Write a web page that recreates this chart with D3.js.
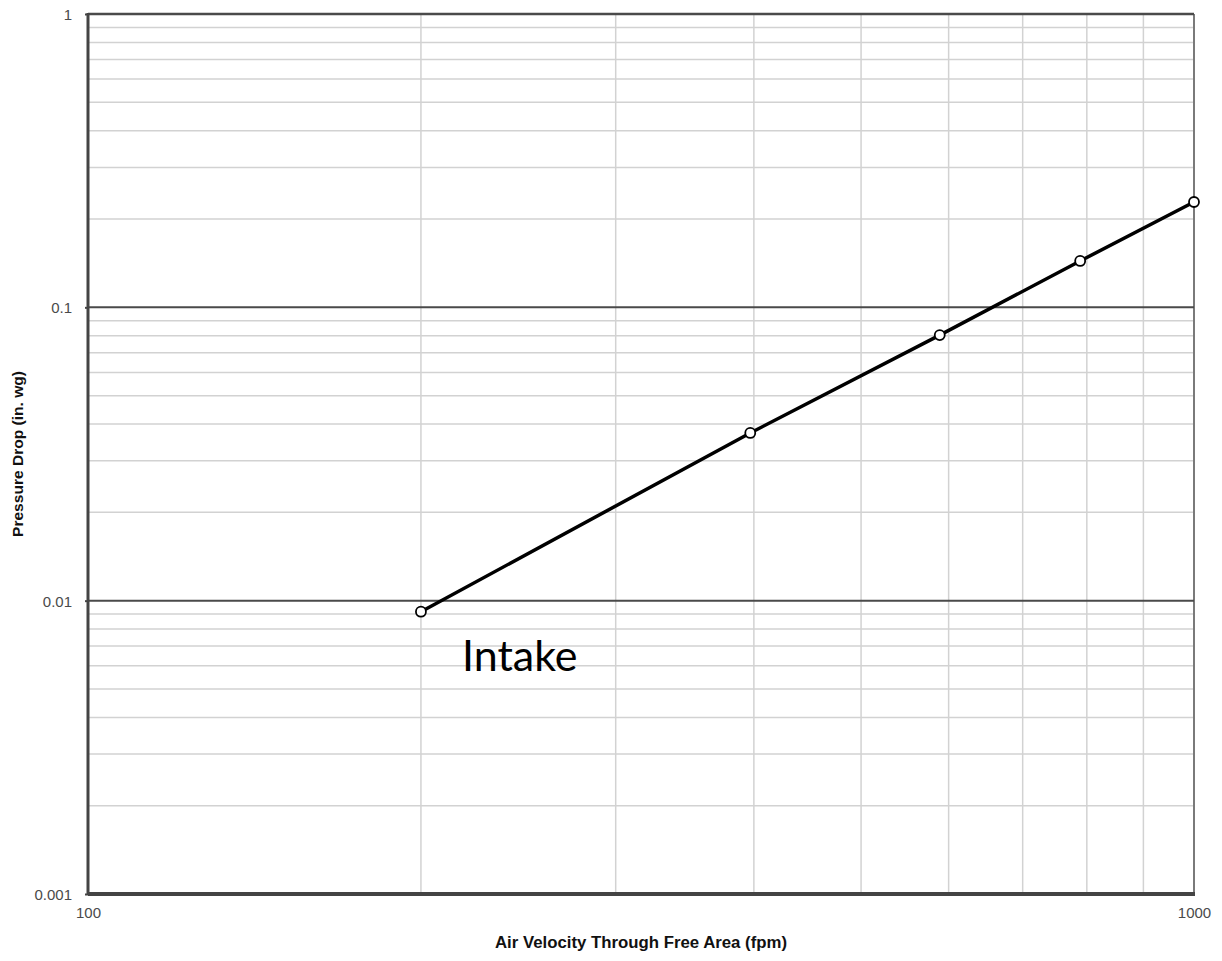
<!DOCTYPE html>
<html>
<head>
<meta charset="utf-8">
<script src="https://cdn.jsdelivr.net/npm/d3@7"></script>
<style>
  body { margin: 0; background: #fff; }
  svg { display: block; }
</style>
</head>
<body>
<div id="container"></div>
<script>
// data
var velocity = [200, 397, 589, 789, 1000];          // fpm
var pressureDrop = [0.00917, 0.0373, 0.0804, 0.1439, 0.2286]; // in. wg
var xTicks = [100, 1000];
var yTicks = [0.001, 0.01, 0.1, 1];
var seriesLabel = "Intake";

var width = 1222, height = 961;
var margin = {top: 14, right: 28, bottom: 67, left: 88};

var svg = d3.select("#container").append("svg")
    .attr("width", width)
    .attr("height", height);

var x = d3.scaleLog().domain([100, 1000]).range([margin.left, width - margin.right]);
var y = d3.scaleLog().domain([0.001, 1]).range([height - margin.bottom, margin.top]);

var g = svg.append("g");

// minor grid lines
var xMinor = d3.range(2, 10).map(function(d) { return d * 100; });
var yMinor = [];
[0.001, 0.01, 0.1].forEach(function(dec) {
  d3.range(2, 10).forEach(function(k) { yMinor.push(dec * k); });
});

g.selectAll(".vgrid")
  .data(xMinor)
  .enter().append("line")
    .attr("x1", function(d) { return x(d); })
    .attr("x2", function(d) { return x(d); })
    .attr("y1", y(1))
    .attr("y2", y(0.001))
    .attr("stroke", "#d2d2d2")
    .attr("stroke-width", 1.5);

g.selectAll(".hgrid")
  .data(yMinor)
  .enter().append("line")
    .attr("x1", x(100))
    .attr("x2", x(1000))
    .attr("y1", function(d) { return y(d); })
    .attr("y2", function(d) { return y(d); })
    .attr("stroke", "#d2d2d2")
    .attr("stroke-width", 1.5);

// right border (1000 line)
g.append("line")
    .attr("x1", x(1000)).attr("x2", x(1000))
    .attr("y1", y(1)).attr("y2", y(0.001))
    .attr("stroke", "#7a7a7a")
    .attr("stroke-width", 2);

// major horizontal lines (0.01, 0.1, 1)
g.selectAll(".major")
  .data([0.01, 0.1, 1])
  .enter().append("line")
    .attr("x1", x(100))
    .attr("x2", x(1000))
    .attr("y1", function(d) { return y(d); })
    .attr("y2", function(d) { return y(d); })
    .attr("stroke", "#4a4a4a")
    .attr("stroke-width", function(d) { return d == 1 ? 2.5 : 2; });

// axes
var yAxis = d3.axisLeft(y)
    .tickValues(yTicks)
    .tickFormat(function(d) { return String(d); })
    .tickSize(3)
    .tickPadding(13);
var xAxis = d3.axisBottom(x)
    .tickValues(xTicks)
    .tickFormat(function(d) { return String(d); })
    .tickSize(0)
    .tickPadding(13);

var ya = svg.append("g")
    .attr("transform", "translate(" + x(100) + ",0)")
    .call(yAxis);
var xa = svg.append("g")
    .attr("transform", "translate(0," + y(0.001) + ")")
    .call(xAxis);

[ya, xa].forEach(function(a) {
  a.select(".domain").remove();
  a.selectAll("line").attr("stroke", "#444").attr("stroke-width", 2);
  a.selectAll("text")
    .style("font-family", "'Liberation Sans', Arial, sans-serif")
    .style("font-size", "15px")
    .attr("fill", "#4a4a4a");
});
ya.selectAll("text").attr("dy", "0.36em");

// axis lines
svg.append("line")
    .attr("x1", x(100)).attr("x2", x(100))
    .attr("y1", y(1) - 1).attr("y2", y(0.001))
    .attr("stroke", "#444").attr("stroke-width", 3);
svg.append("line")
    .attr("x1", x(100)).attr("x2", x(1000) + 1)
    .attr("y1", y(0.001)).attr("y2", y(0.001))
    .attr("stroke", "#444").attr("stroke-width", 4);

// the series
var pts = velocity.map(function(v, i) { return [v, pressureDrop[i]]; });

var line = d3.line()
    .x(function(d) { return x(d[0]); })
    .y(function(d) { return y(d[1]); });

g.append("path")
    .datum(pts)
    .attr("d", line)
    .attr("fill", "none")
    .attr("stroke", "#000")
    .attr("stroke-width", 3.5);

g.selectAll(".pt")
  .data(pts)
  .enter().append("circle")
    .attr("cx", function(d) { return x(d[0]); })
    .attr("cy", function(d) { return y(d[1]); })
    .attr("r", 5)
    .attr("fill", "#fff")
    .attr("stroke", "#000")
    .attr("stroke-width", 1.8);

// series label
svg.append("text")
    .attr("x", 462)
    .attr("y", 671)
    .style("font-family", "Lato, 'Open Sans', sans-serif")
    .style("font-size", "43px")
    .attr("fill", "#000")
    .text(seriesLabel);

// axis titles
svg.append("text")
    .attr("x", (x(100) + x(1000)) / 2)
    .attr("y", 948)
    .attr("text-anchor", "middle")
    .attr("textLength", 292)
    .attr("lengthAdjust", "spacingAndGlyphs")
    .style("font-family", "'Liberation Sans', Arial, sans-serif")
    .style("font-weight", "bold")
    .style("font-size", "16px")
    .attr("fill", "#111")
    .text("Air Velocity  Through Free Area (fpm)");

svg.append("text")
    .attr("transform", "translate(23," + (y(1) + y(0.001)) / 2 + ") rotate(-90)")
    .attr("text-anchor", "middle")
    .attr("textLength", 166)
    .attr("lengthAdjust", "spacingAndGlyphs")
    .style("font-family", "'Liberation Sans', Arial, sans-serif")
    .style("font-weight", "bold")
    .style("font-size", "15px")
    .attr("fill", "#111")
    .text("Pressure Drop (in. wg)");
</script>
</body>
</html>
